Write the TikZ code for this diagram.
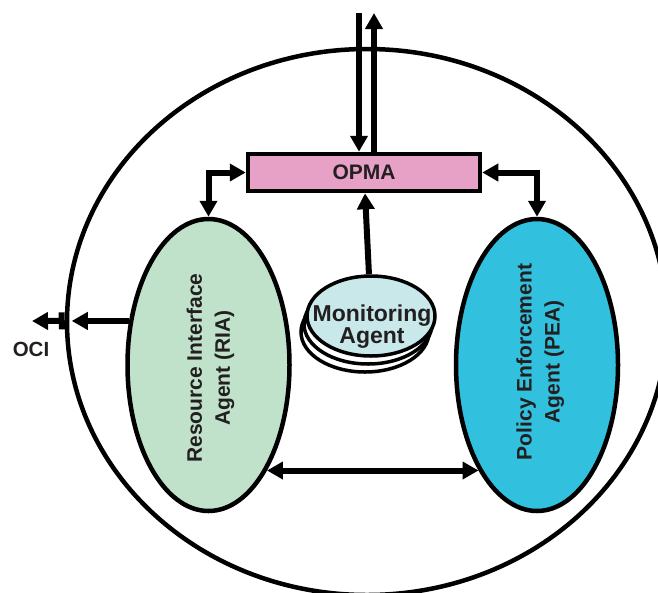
\documentclass[tikz,border=0pt]{standalone}
\usepackage{fontspec}
\setmainfont{Liberation Sans}
\usetikzlibrary{shapes.geometric, arrows.meta}
\definecolor{opmapink}{RGB}{231,160,198}
\definecolor{riagreen}{RGB}{192,226,202}
\definecolor{peablue}{RGB}{49,193,222}
\definecolor{monblue}{RGB}{200,232,234}
\definecolor{labelgray}{RGB}{35,31,32}

\begin{document}
\begin{tikzpicture}[x=1pt, y=-1pt,
    agent/.style={draw, ellipse, line width=4.5pt, minimum width=162pt, minimum height=292pt},
    disc/.style={draw, ellipse, line width=3.5pt, fill=white, minimum width=128pt, minimum height=80pt},
    txt/.style={text=labelgray, align=center, font=\bfseries\fontsize{21}{28}\selectfont},
    link/.style={line width=6pt, -{Triangle[length=16pt, width=17pt]}},
    both/.style={{Triangle[length=16pt, width=17pt]}-{Triangle[length=16pt, width=17pt]}}]
    \useasboundingbox (0,0) rectangle (658,592);

    % outer boundary of the node
    \node[draw, ellipse, line width=4.5pt, minimum width=600pt, minimum height=546pt] (platform) at (367,322) {};

    \node[draw, fill=opmapink, line width=4.5pt, minimum width=232pt, minimum height=37pt, txt] (opma) at (364,172.5) {OPMA};

    \node[agent, fill=riagreen] (ria) at (208.5,365) {};
    \node[txt, rotate=90] (ria-text) at (210.5,368) {Resource Interface\\Agent (RIA)};

    \node[agent, fill=peablue] (pea) at (537,365) {};
    \node[txt, rotate=90] (pea-text) at (540.3,362) {Policy Enforcement\\Agent (PEA)};

    % stacked discs
    \node[disc] (mon3) at (365,332) {};
    \node[disc] (mon2) at (368,324) {};
    \node[disc, fill=monblue] (mon) at (371,316) {};
    \node[txt, font=\bfseries\fontsize{23}{22}\selectfont] (mon-text) at (372,326.5) {Monitoring\\Agent};

    \coordinate (in) at (359,13);
    \coordinate (out) at (374,13);
    \coordinate (oci) at (32,321);
    \node[txt, font=\bfseries\fontsize{20.5}{24}\selectfont] (oci-label) at (31,349) {OCI};

    \draw[link] (in) -- (in |- opma.north);
    \draw[link] (out |- opma.north) -- (out);
    \draw[link, both] (opma.west) -| (ria.north);
    \draw[link, both] (opma.east) -| (pea.north);
    \draw[link] (mon) -- (opma);
    \draw[link, both] (ria.-61) -- (pea.-119);
    \draw[link, shorten >=7pt] (ria.151) -- (ria.151 -| platform.west);
    \draw[link, {Bar[width=17pt]}-{Triangle[length=16pt, width=17pt]}] (ria.151 -| platform.west) -- (oci);
\end{tikzpicture}
\end{document}
